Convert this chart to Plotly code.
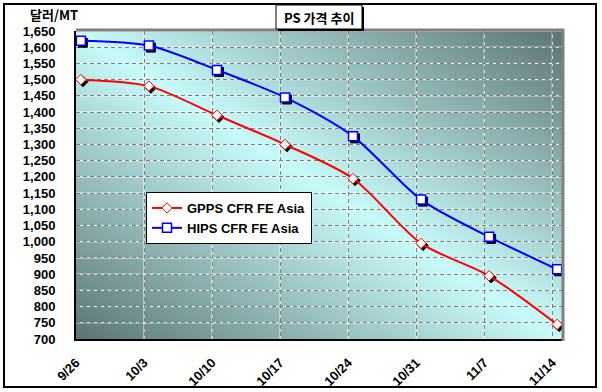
import base64
import pandas as pd
import plotly.graph_objects as go

# ---------------- data ----------------
dates = ['2008-09-26', '2008-10-03', '2008-10-10', '2008-10-17',
         '2008-10-24', '2008-10-31', '2008-11-07', '2008-11-14']
date_labels = ['9/26', '10/3', '10/10', '10/17', '10/24', '10/31', '11/7', '11/14']
gpps = [1500, 1480, 1390, 1300, 1195, 995, 895, 745]
hips = [1620, 1605, 1530, 1445, 1325, 1130, 1015, 915]
y_ticks = list(range(700, 1651, 50))
series_names = ['GPPS CFR FE Asia', 'HIPS CFR FE Asia']
y_title = '달러/MT'
chart_title = 'PS 가격 추이'

# ---------------- geometry ----------------
W, H = 602, 392
L, R, T, B = 76, 40, 31, 53
PW, PH = W - L - R, H - T - B

x_start = pd.Timestamp(dates[0])
x_end = x_start + pd.Timedelta(days=50)
y_min, y_max = 700, 1650

# Excel date axis "between dates": points sit in the middle of their day slot
xpts = pd.to_datetime(dates) + pd.Timedelta(hours=12)

# shadow offset (px) via shifted ranges of a hidden base axis
OFF = 2
span_s = (x_end - x_start).total_seconds()
dx = pd.Timedelta(seconds=OFF * span_s / PW)
dy = OFF * (y_max - y_min) / PH


def px(xp):
    return (xp - L) / PW


def py(yp):
    return (T + PH - yp) / PH


FONT = 'Liberation Sans, Arial, Noto Sans CJK KR, sans-serif'
KFONT = 'Noto Sans CJK KR, Liberation Sans, sans-serif'

RED, BLUE = '#FF0000', '#0000FF'

fig = go.Figure()

# shadows (base axes)
fig.add_trace(go.Scatter(x=xpts, y=gpps, mode='markers', xaxis='x', yaxis='y',
                         marker=dict(symbol='diamond', size=8, color='black',
                                     line=dict(color='black', width=1)),
                         showlegend=False, hoverinfo='skip'))
fig.add_trace(go.Scatter(x=xpts, y=hips, mode='markers', xaxis='x', yaxis='y',
                         marker=dict(symbol='square', size=9, color='black',
                                     line=dict(color='black', width=1)),
                         showlegend=False, hoverinfo='skip'))

# main series (overlay axes)
fig.add_trace(go.Scatter(x=xpts, y=gpps, mode='lines+markers', name=series_names[0],
                         xaxis='x2', yaxis='y2',
                         line=dict(color=RED, width=2, shape='spline', smoothing=0.8),
                         marker=dict(symbol='diamond', size=8, color='white',
                                     line=dict(color=RED, width=1))))
fig.add_trace(go.Scatter(x=xpts, y=hips, mode='lines+markers', name=series_names[1],
                         xaxis='x2', yaxis='y2',
                         line=dict(color=BLUE, width=2, shape='spline', smoothing=0.8),
                         marker=dict(symbol='square', size=9, color='white',
                                     line=dict(color=BLUE, width=1.5))))

# gradient background
svg = (f'<svg xmlns="http://www.w3.org/2000/svg" width="{PW}" height="{PH}" '
       f'viewBox="0 0 {PW} {PH}" preserveAspectRatio="none"><defs>'
       '<linearGradient id="g" x1="0" y1="1" x2="1" y2="0">'
       '<stop offset="0" stop-color="#5a7573"/>'
       '<stop offset="0.5" stop-color="#c8fafa"/>'
       '<stop offset="1" stop-color="#5a7573"/>'
       '</linearGradient></defs>'
       f'<rect width="{PW}" height="{PH}" fill="url(#g)"/></svg>')
src = 'data:image/svg+xml;base64,' + base64.b64encode(svg.encode()).decode()

shapes = []
# white solid under-lines of the gridlines (Excel gray/white dashes)
for d in dates[1:]:
    shapes.append(dict(type='line', xref='x2', yref='y2 domain', x0=d, x1=d, y0=0, y1=1,
                       line=dict(color='white', width=1), layer='below'))
for v in y_ticks[1:]:
    shapes.append(dict(type='line', xref='x2 domain', yref='y2', x0=0, x1=1, y0=v, y1=v,
                       line=dict(color='white', width=1), layer='below'))
# gray top / right plot-area border
shapes.append(dict(type='line', xref='paper', yref='paper', x0=0, x1=px(L + PW + 2),
                   y0=py(T - 1), y1=py(T - 1), line=dict(color='#808080', width=3)))
shapes.append(dict(type='line', xref='paper', yref='paper', x0=px(L + PW + 1), x1=px(L + PW + 1),
                   y0=py(T + PH + 2), y1=py(T - 2), line=dict(color='#808080', width=3)))
# outer frame
shapes.append(dict(type='rect', xref='paper', yref='paper', x0=px(4), x1=px(596),
                   y0=py(387), y1=py(4), line=dict(color='black', width=2)))
# title box with shadow
shapes.append(dict(type='rect', xref='paper', yref='paper', x0=px(278), x1=px(364),
                   y0=py(31), y1=py(7), fillcolor='black', line=dict(width=0)))
shapes.append(dict(type='rect', xref='paper', yref='paper', x0=px(276), x1=px(362),
                   y0=py(29), y1=py(5), fillcolor='white', line=dict(color='black', width=1)))

annotations = [
    dict(text=y_title, xref='paper', yref='paper', x=px(54), y=py(15), showarrow=False,
         xanchor='center', yanchor='middle',
         font=dict(family=KFONT, size=13, color='black', weight='bold')),
    dict(text=chart_title, xref='paper', yref='paper', x=px(319), y=py(17), showarrow=False,
         xanchor='center', yanchor='middle',
         font=dict(family=KFONT, size=13, color='black', weight='bold')),
]

tickfont = dict(family=FONT, size=13, color='black', weight='bold')

fig.update_layout(
    width=W, height=H,
    margin=dict(l=L, r=R, t=T, b=B, pad=0, autoexpand=False),
    paper_bgcolor='white',
    plot_bgcolor='rgba(0,0,0,0)',
    images=[dict(source=src, xref='paper', yref='paper', x=0, y=1, sizex=1, sizey=1,
                 xanchor='left', yanchor='top', sizing='stretch', layer='below')],
    shapes=shapes,
    annotations=annotations,
    showlegend=True,
    legend=dict(x=px(146), y=py(192), xanchor='left', yanchor='top',
                bgcolor='white', bordercolor='black', borderwidth=1,
                font=dict(family=FONT, size=13, color='black', weight='bold'),
                tracegroupgap=0, itemwidth=30),
    xaxis=dict(type='date', range=[str(x_start - dx), str(x_end - dx)],
               visible=False, showgrid=False, zeroline=False, automargin=False),
    yaxis=dict(range=[y_min + dy, y_max + dy], visible=False, showgrid=False,
               zeroline=False, automargin=False),
    xaxis2=dict(type='date', overlaying='x', anchor='y2', side='bottom',
                range=[str(x_start), str(x_end)], automargin=False,
                tickmode='array', tickvals=dates, ticktext=date_labels, tickangle=-45,
                ticks='', ticklabelstandoff=9, tickfont=tickfont,
                showgrid=True, gridcolor='#808080', gridwidth=1, griddash='4px,3px',
                showline=True, linecolor='black', linewidth=2, zeroline=False),
    yaxis2=dict(overlaying='y', anchor='x2', side='left', automargin=False,
                range=[y_min, y_max], tickmode='array', tickvals=y_ticks,
                tickformat=',d', ticks='', ticklabelstandoff=16, tickfont=tickfont,
                showgrid=True, gridcolor='#808080', gridwidth=1, griddash='4px,3px',
                showline=True, linecolor='black', linewidth=2, zeroline=False),
)

fig.write_html('out.html', config={'displayModeBar': False},
               post_script="document.body.style.margin='0';document.body.style.overflow='hidden';")
